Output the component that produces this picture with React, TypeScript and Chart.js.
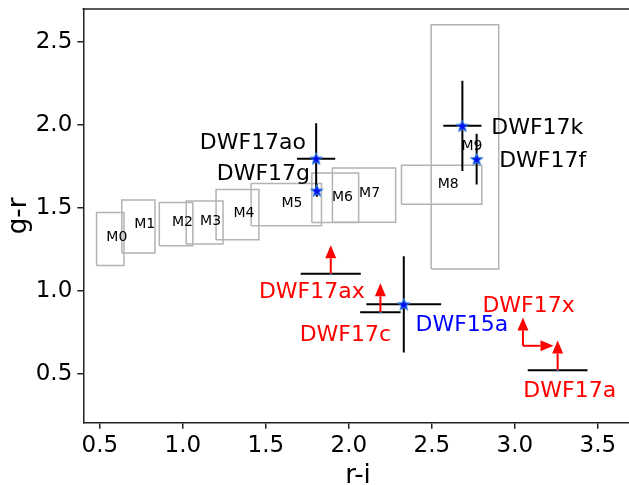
import React, { useEffect, useRef } from "react";
import { Chart, registerables } from "chart.js";

Chart.register(...registerables);

// Spectral-type boxes (r-i, g-r ranges)
const boxNames = ["M0", "M1", "M2", "M3", "M4", "M5", "M6", "M7", "M8", "M9"];
const boxXLo = [0.48, 0.632, 0.858, 1.02, 1.2, 1.411, 1.777, 1.901, 2.317, 2.496];
const boxXHi = [0.645, 0.832, 1.06, 1.242, 1.458, 1.835, 2.059, 2.282, 2.801, 2.903];
const boxYLo = [1.153, 1.228, 1.272, 1.282, 1.308, 1.392, 1.412, 1.414, 1.522, 1.132];
const boxYHi = [1.472, 1.548, 1.532, 1.542, 1.611, 1.647, 1.71, 1.741, 1.757, 2.605];
const boxLabelX = [0.602, 0.77, 0.997, 1.167, 1.368, 1.657, 1.961, 2.125, 2.599, 2.742];
const boxLabelY = [1.322, 1.398, 1.412, 1.418, 1.468, 1.528, 1.563, 1.587, 1.644, 1.872];

// Detected objects (stars with error bars)
const starNames = ["DWF17ao", "DWF17g", "DWF17k", "DWF17f", "DWF15a"];
const starX = [1.803, 1.807, 2.684, 2.77, 2.331];
const starY = [1.797, 1.604, 1.995, 1.794, 0.918];
const starXErr = [0.115, 0, 0.115, 0, 0.225];
const starYErr = [0.213, 0.037, 0.272, 0.153, 0.29];

// Lower limits (horizontal bar + upward arrow)
const limNames = ["DWF17ax", "DWF17c", "DWF17a"];
const limX = [1.891, 2.19, 3.258];
const limY = [1.102, 0.871, 0.52];
const limXErr = [0.181, 0.122, 0.18];
const limArrow = [0.172, 0.174, 0.18];

// DWF17x: double lower limit (arrow up and arrow right)
const xLimX = [3.049];
const xLimY = [0.668];
const xLimUp = [0.171];
const xLimRight = [0.184];

// Text labels
const labelText = ["DWF17ao", "DWF17g", "DWF17k", "DWF17f", "DWF15a", "DWF17ax", "DWF17c", "DWF17x", "DWF17a"];
const labelX = [1.422, 1.485, 3.135, 3.168, 2.681, 1.777, 1.979, 3.083, 3.331];
const labelY = [1.857, 1.668, 1.947, 1.747, 0.755, 0.959, 0.699, 0.873, 0.36];
const labelColor = ["#000", "#000", "#000", "#000", "#0000ff", "#ff0000", "#ff0000", "#ff0000", "#ff0000"];

const xTicks = [0.5, 1.0, 1.5, 2.0, 2.5, 3.0, 3.5];
const yTicks = [0.5, 1.0, 1.5, 2.0, 2.5];
const xRange = [0.4, 3.7];
const yRange = [0.204, 2.7];

const FONT = '"DejaVu Sans", sans-serif';

function makeStar(): HTMLCanvasElement {
  const c = document.createElement("canvas");
  c.width = 16;
  c.height = 16;
  const g = c.getContext("2d")!;
  const cx = 8, cy = 8.5, R = 6.6, r = 2.7;
  g.beginPath();
  for (let i = 0; i < 10; i++) {
    const a = -Math.PI / 2 + (i * Math.PI) / 5;
    const rad = i % 2 === 0 ? R : r;
    const px = cx + rad * Math.cos(a);
    const py = cy + rad * Math.sin(a);
    if (i === 0) g.moveTo(px, py);
    else g.lineTo(px, py);
  }
  g.closePath();
  g.fillStyle = "#0010f0";
  g.fill();
  g.lineWidth = 1;
  g.strokeStyle = "#3d8ee0";
  g.stroke();
  return c;
}

function seg(x1: number, y1: number, x2: number, y2: number, color: string, w: number, order: number) {
  return {
    type: "scatter" as const,
    data: [{ x: x1, y: y1 }, { x: x2, y: y2 }],
    showLine: true,
    borderColor: color,
    borderWidth: w,
    pointRadius: 0,
    fill: false,
    order,
  };
}

function drawArrow(ctx: CanvasRenderingContext2D, x1: number, y1: number, x2: number, y2: number) {
  const dx = x2 - x1, dy = y2 - y1;
  const len = Math.hypot(dx, dy);
  const ux = dx / len, uy = dy / len;
  const hl = 13, hw = 5.5;
  const bx = x2 - ux * hl, by = y2 - uy * hl;
  ctx.strokeStyle = "#ff0000";
  ctx.fillStyle = "#ff0000";
  ctx.lineWidth = 2;
  ctx.beginPath();
  ctx.moveTo(x1, y1);
  ctx.lineTo(bx, by);
  ctx.stroke();
  ctx.beginPath();
  ctx.moveTo(x2, y2);
  ctx.lineTo(bx - uy * hw, by + ux * hw);
  ctx.lineTo(bx + uy * hw, by - ux * hw);
  ctx.closePath();
  ctx.fill();
}

const annotate = {
  id: "annotate",
  afterDatasetsDraw(chart: any) {
    const { ctx, chartArea } = chart;
    const xs = chart.scales.x;
    const ys = chart.scales.y;
    ctx.save();
    // top spine
    ctx.strokeStyle = "#222";
    ctx.lineWidth = 1.5;
    ctx.beginPath();
    ctx.moveTo(chartArea.left - 0.75, chartArea.top);
    ctx.lineTo(chartArea.right, chartArea.top);
    ctx.stroke();

    // box labels
    ctx.fillStyle = "#000";
    ctx.font = `14px ${FONT}`;
    ctx.textAlign = "center";
    ctx.textBaseline = "middle";
    boxNames.forEach((t, i) => {
      ctx.fillText(t, xs.getPixelForValue(boxLabelX[i]), ys.getPixelForValue(boxLabelY[i]));
    });

    // arrows
    limNames.forEach((_, i) => {
      drawArrow(
        ctx,
        xs.getPixelForValue(limX[i]),
        ys.getPixelForValue(limY[i]),
        xs.getPixelForValue(limX[i]),
        ys.getPixelForValue(limY[i] + limArrow[i])
      );
    });
    xLimX.forEach((v, i) => {
      const px = xs.getPixelForValue(v);
      const py = ys.getPixelForValue(xLimY[i]);
      drawArrow(ctx, px, py, px, ys.getPixelForValue(xLimY[i] + xLimUp[i]));
      drawArrow(ctx, px, py, xs.getPixelForValue(v + xLimRight[i]), py);
    });

    // object labels
    ctx.font = `22px ${FONT}`;
    ctx.textAlign = "center";
    ctx.textBaseline = "alphabetic";
    labelText.forEach((t, i) => {
      ctx.fillStyle = labelColor[i];
      ctx.fillText(t, xs.getPixelForValue(labelX[i]), ys.getPixelForValue(labelY[i]));
    });

    // axis titles
    ctx.fillStyle = "#000";
    ctx.font = `26px ${FONT}`;
    ctx.textAlign = "center";
    ctx.textBaseline = "alphabetic";
    ctx.fillText("r-i", 358, 483);
    ctx.save();
    ctx.translate(26, (chartArea.top + chartArea.bottom) / 2);
    ctx.rotate(-Math.PI / 2);
    ctx.fillText("g-r", 0, 0);
    ctx.restore();

    ctx.restore();
  },
};

export default function App() {
  const ref = useRef<HTMLCanvasElement | null>(null);

  useEffect(() => {
    const canvas = ref.current;
    if (!canvas) return;
    const star = makeStar();

    const datasets: any[] = [];

    // stars
    datasets.push({
      type: "scatter",
      data: starX.map((v, i) => ({ x: v, y: starY[i] })),
      pointStyle: star,
      pointRadius: 8,
      order: 0,
    });
    // small markers at limit points
    datasets.push({
      type: "scatter",
      data: limX.map((v, i) => ({ x: v, y: limY[i] })),
      pointStyle: "circle",
      pointRadius: 1.3,
      backgroundColor: "#1f77b4",
      borderWidth: 0,
      order: 1,
    });
    // error bars
    starX.forEach((v, i) => {
      if (starXErr[i] > 0) datasets.push(seg(v - starXErr[i], starY[i], v + starXErr[i], starY[i], "#000", 2, 2));
      if (starYErr[i] > 0) datasets.push(seg(v, starY[i] - starYErr[i], v, starY[i] + starYErr[i], "#000", 2, 2));
    });
    limX.forEach((v, i) => {
      datasets.push(seg(v - limXErr[i], limY[i], v + limXErr[i], limY[i], "#000", 2, 2));
    });
    // boxes
    boxNames.forEach((_, i) => {
      datasets.push({
        type: "scatter",
        data: [
          { x: boxXLo[i], y: boxYLo[i] },
          { x: boxXHi[i], y: boxYLo[i] },
          { x: boxXHi[i], y: boxYHi[i] },
          { x: boxXLo[i], y: boxYHi[i] },
          { x: boxXLo[i], y: boxYLo[i] },
        ],
        showLine: true,
        borderColor: "#b3b3b3",
        borderWidth: 1.5,
        pointRadius: 0,
        fill: false,
        order: 3,
      });
    });

    const tickFont = { family: FONT, size: 23 };
    const chart = new Chart(canvas, {
      type: "scatter",
      data: { datasets },
      options: {
        responsive: false,
        animation: false,
        events: [],
        layout: { padding: { top: 6, right: 7.2, left: 0, bottom: 0 } },
        plugins: { legend: { display: false }, tooltip: { enabled: false } },
        scales: {
          x: {
            type: "linear",
            min: xRange[0],
            max: xRange[1],
            afterFit: (s: any) => {
              s.height = 62.3;
              s.paddingLeft = 0;
              s.paddingRight = 0;
            },
            afterBuildTicks: (s: any) => {
              s.ticks = xTicks.map((v) => ({ value: v }));
            },
            ticks: {
              color: "#000",
              font: tickFont,
              padding: 4,
              callback: (v: any) => Number(v).toFixed(1),
            },
            grid: { display: true, drawOnChartArea: false, drawTicks: true, tickLength: 6, color: "#222", lineWidth: 1.5 },
            border: { display: true, color: "#222", width: 1.5 },
          },
          y: {
            type: "linear",
            min: yRange[0],
            max: yRange[1],
            afterFit: (s: any) => {
              s.width = 83.3;
              s.paddingTop = 0;
              s.paddingBottom = 0;
            },
            afterBuildTicks: (s: any) => {
              s.ticks = yTicks.map((v) => ({ value: v }));
            },
            ticks: {
              color: "#000",
              font: tickFont,
              padding: 5,
              callback: (v: any) => Number(v).toFixed(1),
            },
            grid: { display: true, drawOnChartArea: false, drawTicks: true, tickLength: 6, color: "#222", lineWidth: 1.5 },
            border: { display: true, color: "#222", width: 1.5 },
          },
        },
      },
      plugins: [annotate],
    } as any);

    return () => chart.destroy();
  }, []);

  return (
    <div
      style={{
        position: "fixed",
        left: 0,
        top: 0,
        width: 629,
        height: 485,
        overflow: "hidden",
        background: "#fff",
      }}
    >
      <canvas ref={ref} width={640} height={485} style={{ display: "block" }} />
    </div>
  );
}
